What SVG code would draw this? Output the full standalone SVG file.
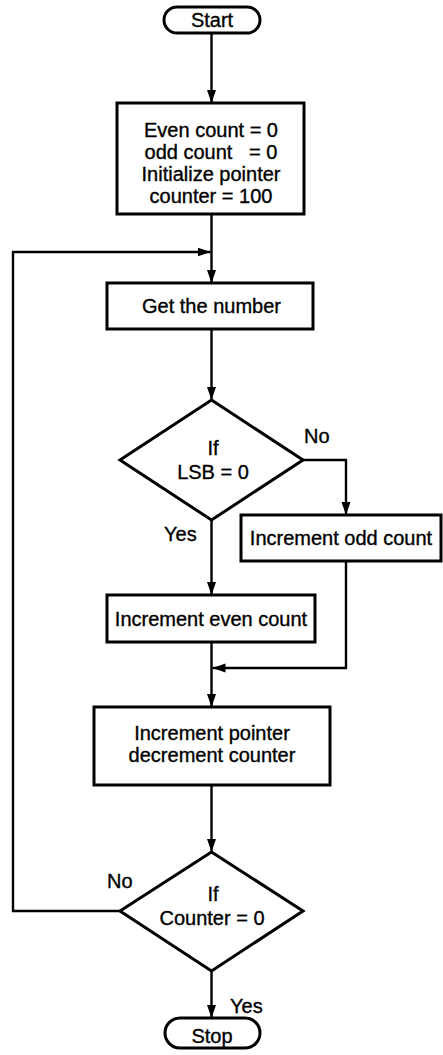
<svg xmlns="http://www.w3.org/2000/svg" width="443" height="1055" viewBox="0 0 443 1055">
<style>
.box{fill:#fff;stroke:#000;stroke-width:3}
.ln{fill:none;stroke:#000;stroke-width:2.4}
.t{font-family:"Liberation Sans",Arial,Helvetica,sans-serif;font-size:20px;fill:#000;stroke:#000;stroke-width:0.35;text-anchor:middle}
.l{font-family:"Liberation Sans",Arial,Helvetica,sans-serif;font-size:20px;fill:#000;stroke:#000;stroke-width:0.35}
</style>
<defs>
<marker id="ah" markerUnits="userSpaceOnUse" markerWidth="14" markerHeight="10" refX="13" refY="4.5" orient="auto">
<path d="M0,0 L13,4.5 L0,9 z" fill="#000"/>
</marker>
</defs>
<rect width="443" height="1055" fill="#fff"/>
<g id="connectors">
<path class="ln" d="M211.5,33 V103" marker-end="url(#ah)"/>
<path class="ln" d="M211.5,214 V283" marker-end="url(#ah)"/>
<path class="ln" d="M211.5,329 V400" marker-end="url(#ah)"/>
<path class="ln" d="M211.5,520 V595" marker-end="url(#ah)"/>
<path class="ln" d="M303,460 H346 V515" marker-end="url(#ah)"/>
<path class="ln" d="M346,561 V668 H212.5" marker-end="url(#ah)"/>
<path class="ln" d="M211.5,642 V707" marker-end="url(#ah)"/>
<path class="ln" d="M211.5,785 V852" marker-end="url(#ah)"/>
<path class="ln" d="M120,911 H13 V252 H210.5" marker-end="url(#ah)"/>
<path class="ln" d="M211.5,971 V1018" marker-end="url(#ah)"/>
</g>
<g id="start">
<rect class="box" x="164" y="7" width="96" height="26" rx="13"/>
<text class="t" x="212" y="27">Start</text>
</g>
<g id="init">
<rect class="box" x="117" y="103" width="187" height="111"/>
<text class="t" x="211" y="137">Even count = 0</text>
<text class="t" x="211" y="159" xml:space="preserve">odd count   = 0</text>
<text class="t" x="211" y="181">Initialize pointer</text>
<text class="t" x="211" y="203">counter = 100</text>
</g>
<g id="get">
<rect class="box" x="107" y="283" width="206" height="46"/>
<text class="t" x="211.5" y="313">Get the number</text>
</g>
<g id="dec1">
<polygon class="box" points="211.5,400 303,460 211.5,520 120,460"/>
<text class="t" x="213" y="455">If</text>
<text class="t" x="213" y="479">LSB = 0</text>
</g>
<g id="odd">
<rect class="box" x="241" y="515" width="200" height="46"/>
<text class="t" x="341" y="545">Increment odd count</text>
</g>
<g id="even">
<rect class="box" x="107" y="595" width="208" height="47"/>
<text class="t" x="211" y="626">Increment even count</text>
</g>
<g id="pointer">
<rect class="box" x="94" y="707" width="236" height="78"/>
<text class="t" x="212" y="740">Increment pointer</text>
<text class="t" x="212" y="762">decrement counter</text>
</g>
<g id="dec2">
<polygon class="box" points="211.5,852 303,911 211.5,971 120,911"/>
<text class="t" x="213" y="901">If</text>
<text class="t" x="212" y="925">Counter = 0</text>
</g>
<g id="stop">
<rect class="box" x="165" y="1018" width="95" height="30" rx="15"/>
<text class="t" x="212" y="1043">Stop</text>
</g>
<g id="labels">
<text class="l" x="304" y="443">No</text>
<text class="l" x="164" y="541">Yes</text>
<text class="l" x="107" y="888">No</text>
<text class="l" x="230" y="1013">Yes</text>
</g>
</svg>
